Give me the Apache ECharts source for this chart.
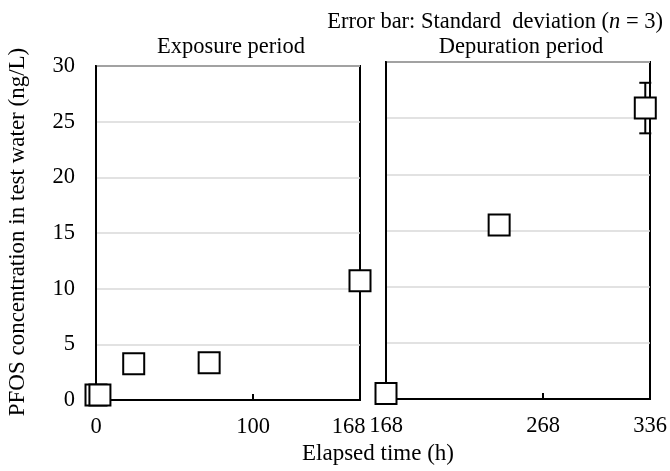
<!DOCTYPE html>
<html>
<head>
<meta charset="utf-8">
<script src="https://cdn.jsdelivr.net/npm/echarts@6/dist/echarts.min.js"></script>
<style>
html,body{margin:0;padding:0;background:#fff;}
#chart{width:670px;height:471px;}
</style>
</head>
<body>
<div id="chart"></div>
<script>
// ---- data ----
const exposureTime = [0, 2.5, 24, 72, 168];
const exposureConc = [0.45, 0.45, 3.25, 3.35, 10.7];
const exposureSD   = [0.1, 0.1, 0.3, 0.3, 0.6];
const depurationTime = [168, 240, 333];
const depurationConc = [0.5, 15.5, 25.9];
const depurationSD   = [0.1, 0.5, 2.25];
const exposureTicks = [0, 100, 168];
const depurationTicks = [168, 268, 336];
const yTicks = [0, 5, 10, 15, 20, 25, 30];

const FONT = 'Liberation Serif';
const FS = 22.5;

const chart = echarts.init(document.getElementById('chart'), null, {renderer: 'canvas'});

function pairs(xs, ys) { return xs.map((x, i) => [x, ys[i]]); }
function errPairs(xs, ys, sd) { return xs.map((x, i) => [x, ys[i] - sd[i], ys[i] + sd[i]]); }

const axisLineStyle = {show: true, lineStyle: {color: '#000', width: 2}};
const splitLine = {show: true, lineStyle: {color: '#d9d9d9', width: 1.5}};

function errRender(params, api) {
  const x = api.value(0);
  const lo = api.coord([x, api.value(1)]);
  const hi = api.coord([x, api.value(2)]);
  const cap = 6;
  const style = {stroke: '#000', lineWidth: 2};
  return {
    type: 'group',
    children: [
      {type: 'line', shape: {x1: lo[0], y1: lo[1], x2: hi[0], y2: hi[1]}, style},
      {type: 'line', shape: {x1: lo[0] - cap, y1: lo[1], x2: lo[0] + cap, y2: lo[1]}, style},
      {type: 'line', shape: {x1: hi[0] - cap, y1: hi[1], x2: hi[0] + cap, y2: hi[1]}, style}
    ]
  };
}

const markerStyle = {color: '#fff', borderColor: '#000', borderWidth: 2, opacity: 1};

const option = {
  backgroundColor: '#fff',
  animation: false,
  textStyle: {fontFamily: FONT},
  title: [
    {text: 'Exposure period', left: 226, top: 31, textAlign: 'center',
     textStyle: {fontFamily: FONT, fontSize: FS, fontWeight: 'normal', color: '#000'}},
    {text: 'Depuration period', left: 516, top: 31, textAlign: 'center',
     textStyle: {fontFamily: FONT, fontSize: FS, fontWeight: 'normal', color: '#000'}},
    {text: 'Error bar: Standard  deviation ({i|n} = 3)', right: 2, top: 6,
     textStyle: {fontFamily: FONT, fontSize: FS, fontWeight: 'normal', color: '#000',
       rich: {i: {fontFamily: FONT, fontSize: FS, fontStyle: 'italic', color: '#000'}}}},
    {text: 'Elapsed time (h)', left: 373, top: 437, textAlign: 'center',
     textStyle: {fontFamily: FONT, fontSize: 23, fontWeight: 'normal', color: '#000'}}
  ],
  graphic: [
    {type: 'text', x: 18, y: 232, rotation: Math.PI / 2,
     style: {text: 'PFOS concentration in test water (ng/L)', font: '23px "' + FONT + '"',
       fill: '#000', align: 'center', verticalAlign: 'middle'}}
  ],
  grid: [
    {left: 96, right: 310, top: 66, bottom: 71, show: true, borderColor: '#000', borderWidth: 2, backgroundColor: 'transparent'},
    {left: 386, right: 20, top: 62, bottom: 72, show: true, borderColor: '#000', borderWidth: 2, backgroundColor: 'transparent'}
  ],
  xAxis: [
    {type: 'value', gridIndex: 0, min: 0, max: 168,
     axisLine: axisLineStyle, splitLine: {show: false},
     axisTick: {show: true, inside: true, length: 6, lineStyle: {color: '#000', width: 2}, customValues: [100]},
     axisLabel: {customValues: exposureTicks, fontFamily: FONT, fontSize: FS, color: '#000', margin: 16,
       formatter: v => v === 168 ? '{r|168}' : String(v),
       rich: {r: {fontFamily: FONT, fontSize: FS, color: '#000', padding: [0, 23, 0, 0]}}}},
    {type: 'value', gridIndex: 1, min: 168, max: 336,
     axisLine: axisLineStyle, splitLine: {show: false},
     axisTick: {show: true, inside: true, length: 6, lineStyle: {color: '#000', width: 2}, customValues: [268]},
     axisLabel: {customValues: depurationTicks, fontFamily: FONT, fontSize: FS, color: '#000', margin: 16}}
  ],
  yAxis: [
    {type: 'value', gridIndex: 0, min: 0, max: 30, interval: 5,
     axisLine: axisLineStyle, axisTick: {show: false}, splitLine: splitLine,
     axisLabel: {fontFamily: FONT, fontSize: FS, color: '#000', margin: 21}},
    {type: 'value', gridIndex: 1, min: 0, max: 30, interval: 5,
     axisLine: axisLineStyle, axisTick: {show: false}, splitLine: splitLine,
     axisLabel: {show: false}}
  ],
  series: [
    {type: 'custom', xAxisIndex: 0, yAxisIndex: 0, z: 2, renderItem: errRender,
     data: errPairs(exposureTime, exposureConc, exposureSD), clip: false},
    {type: 'custom', xAxisIndex: 1, yAxisIndex: 1, z: 2, renderItem: errRender,
     data: errPairs(depurationTime, depurationConc, depurationSD), clip: false},
    {type: 'scatter', xAxisIndex: 0, yAxisIndex: 0, z: 5, symbol: 'rect', symbolSize: 21,
     itemStyle: markerStyle, data: pairs(exposureTime, exposureConc), clip: false},
    {type: 'scatter', xAxisIndex: 1, yAxisIndex: 1, z: 5, symbol: 'rect', symbolSize: 21,
     itemStyle: markerStyle, data: pairs(depurationTime, depurationConc), clip: false}
  ]
};
chart.setOption(option);
</script>
</body>
</html>
